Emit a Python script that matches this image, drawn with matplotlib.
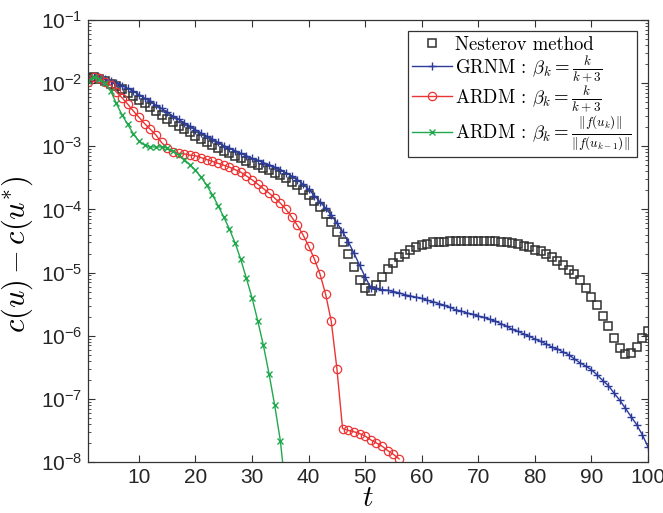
import numpy as np
import matplotlib.pyplot as plt
from matplotlib.font_manager import FontProperties
from matplotlib.ticker import LogLocator, FuncFormatter, NullFormatter, MultipleLocator

# ---- data (log10 of c(u) - c(u*)) ----
t_nest = np.arange(1, 101)
nest_log = [-1.92, -1.91, -1.93, -1.97, -2.01, -2.05, -2.10, -2.15, -2.20, -2.26,
            -2.32, -2.38, -2.44, -2.50, -2.56, -2.62, -2.68, -2.73, -2.78, -2.83,
            -2.88, -2.93, -2.98, -3.03, -3.07, -3.11, -3.15, -3.19, -3.23, -3.27,
            -3.30, -3.34, -3.38, -3.42, -3.46, -3.51, -3.56, -3.62, -3.69, -3.77,
            -3.86, -3.96, -4.07, -4.20, -4.36, -4.51, -4.70, -4.91, -5.11, -5.25,
            -5.29, -5.20, -5.07, -4.95, -4.85, -4.76, -4.70, -4.65, -4.60, -4.57,
            -4.54, -4.52, -4.51, -4.51, -4.50, -4.50, -4.50, -4.50, -4.50, -4.50,
            -4.50, -4.50, -4.50, -4.51, -4.52, -4.53, -4.55, -4.58, -4.60, -4.64,
            -4.66, -4.70, -4.75, -4.82, -4.88, -4.96, -5.03, -5.12, -5.25, -5.39,
            -5.52, -5.68, -5.85, -6.04, -6.20, -6.29, -6.28, -6.18, -6.04, -5.92]

t_grnm = np.arange(1, 101)
grnm_log = [-1.93, -1.90, -1.91, -1.94, -1.97, -2.00, -2.04, -2.08, -2.13, -2.18,
            -2.24, -2.29, -2.35, -2.40, -2.46, -2.52, -2.57, -2.63, -2.68, -2.74,
            -2.79, -2.84, -2.89, -2.94, -2.99, -3.03, -3.07, -3.11, -3.15, -3.19,
            -3.22, -3.26, -3.29, -3.33, -3.37, -3.42, -3.47, -3.53, -3.60, -3.68,
            -3.78, -3.88, -3.98, -4.09, -4.21, -4.35, -4.51, -4.69, -4.88, -5.07,
            -5.24, -5.25, -5.27, -5.28, -5.30, -5.32, -5.35, -5.37, -5.39, -5.41,
            -5.44, -5.46, -5.49, -5.52, -5.55, -5.59, -5.61, -5.64, -5.66, -5.69,
            -5.71, -5.74, -5.77, -5.81, -5.85, -5.90, -5.93, -5.97, -6.01, -6.05,
            -6.09, -6.13, -6.18, -6.21, -6.26, -6.30, -6.37, -6.43, -6.48, -6.54,
            -6.62, -6.71, -6.79, -6.91, -7.02, -7.15, -7.28, -7.41, -7.57, -7.76]

t_ardm1 = np.arange(1, 57)
ardm1_log = [-1.98, -1.90, -1.92, -1.98, -2.03, -2.14, -2.23, -2.33, -2.44, -2.54,
             -2.64, -2.73, -2.82, -2.94, -3.03, -3.09, -3.11, -3.12, -3.14, -3.15,
             -3.18, -3.21, -3.24, -3.27, -3.30, -3.33, -3.37, -3.41, -3.47, -3.53,
             -3.60, -3.67, -3.74, -3.82, -3.90, -4.00, -4.12, -4.25, -4.40, -4.58,
             -4.78, -5.02, -5.34, -5.77, -6.52, -7.47, -7.50, -7.52, -7.55, -7.59,
             -7.65, -7.70, -7.75, -7.82, -7.88, -7.95]

t_ardm2 = np.arange(1, 37)
ardm2_log = [-1.96, -1.90, -1.93, -2.00, -2.12, -2.32, -2.50, -2.65, -2.80, -2.92,
             -2.98, -3.01, -3.01, -3.01, -3.03, -3.08, -3.14, -3.21, -3.29, -3.38,
             -3.49, -3.62, -3.77, -3.94, -4.12, -4.31, -4.53, -4.79, -5.09, -5.40,
             -5.76, -6.15, -6.60, -7.10, -7.66, -8.50]

labels = ["Nesterov method",
          r"GRNM : $\beta_k = \frac{k}{k+3}$",
          r"ARDM : $\beta_k = \frac{k}{k+3}$",
          r"ARDM : $\beta_k = \frac{\Vert f(u_k)\Vert}{\Vert f(u_{k-1})\Vert}$"]

# ---- style ----
plt.rcParams['font.family'] = ['Liberation Sans', 'DejaVu Sans']
plt.rcParams['mathtext.fontset'] = 'custom'
plt.rcParams['mathtext.rm'] = 'Liberation Sans'
plt.rcParams['mathtext.it'] = 'Liberation Sans:italic'

fig = plt.figure(figsize=(6.63, 5.13), dpi=100)
ax = fig.add_axes([88 / 663, 1 - 462 / 513, 560 / 663, 442 / 513])

ax.plot(t_nest, np.power(10.0, nest_log), 's', ls='none', mfc='none',
        mec='#303030', ms=5.4, mew=1.1, label=labels[0])
ax.plot(t_grnm, np.power(10.0, grnm_log), '-+', color='#2b3b9b',
        ms=6, mew=1.0, lw=1.0, label=labels[1])
ax.plot(t_ardm1, np.power(10.0, ardm1_log), '-o', color='#ec3434', mfc='none',
        ms=6, mew=0.9, lw=1.0, label=labels[2])
ax.plot(t_ardm2, np.power(10.0, ardm2_log), '-x', color='#1fa84c',
        ms=4, mew=1.0, lw=1.0, label=labels[3])

ax.set_yscale('log')
ax.set_xlim(1, 100)
ax.set_ylim(1e-8, 1e-1)
ax.xaxis.set_major_locator(MultipleLocator(10))
ax.yaxis.set_major_locator(LogLocator(base=10, numticks=12))
ax.yaxis.set_minor_locator(LogLocator(base=10, subs=np.arange(2, 10), numticks=12))
ax.yaxis.set_minor_formatter(NullFormatter())
ax.yaxis.set_major_formatter(FuncFormatter(
    lambda v, _: r"$10^{%d}$" % int(round(np.log10(v)))))

ax.tick_params(which='both', direction='in', top=True, right=True,
               colors='#333333', labelcolor='#262626', labelsize=15)
ax.tick_params(which='major', length=5, width=0.8, pad=4)
ax.tick_params(which='minor', length=2.5, width=0.6)
for sp in ax.spines.values():
    sp.set_color('#333333')
    sp.set_linewidth(0.9)

ax.set_xlabel(r"$t$", fontsize=21, math_fontfamily='cm')
ax.set_ylabel(r"$c(u) - c(u^{*})$", fontsize=22, math_fontfamily='cm')
ax.xaxis.set_label_coords(0.5, -0.05)
ax.yaxis.set_label_coords(-0.095, 0.47)

leg = ax.legend(loc='upper right', prop=FontProperties(family='cmr10', size=13.5,
                                                       math_fontfamily='cm'),
                fancybox=False, framealpha=1, edgecolor='#333333',
                handlelength=2.1, handletextpad=0.2, labelspacing=0.0,
                borderpad=0.25, borderaxespad=0.6)
leg.get_frame().set_linewidth(0.9)

fig.savefig("out.png", dpi=100)
